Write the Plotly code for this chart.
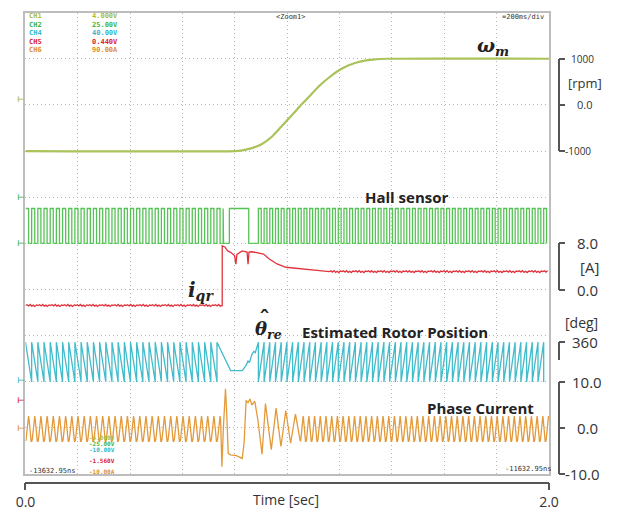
import plotly.graph_objects as go

# ---------------- data ----------------
time_ticks = [0.0, 2.0]
time_tick_text = ["0.0", "2.0"]

# rotor speed omega_m [rpm]
speed_t = [0.0, 0.799, 0.828, 0.865, 0.902, 0.939, 0.976, 1.013, 1.050, 1.087,
           1.124, 1.161, 1.198, 1.235, 1.272, 1.327, 1.383, 2.0]
speed_rpm = [-1000, -1000, -985, -935, -850, -700, -480, -250, -20, 200,
             420, 600, 750, 860, 930, 980, 1000, 1000]

# electrical period of the periodic signals [s]
elec_period_before = 0.0236
elec_period_after = 0.0218

# Hall sensor (logic level)
hall_cycle_frac = [0.0, 0.5, 0.5, 1.0]
hall_cycle_level = [1, 1, 0, 0]
hall_before_end = 0.7567
hall_after_start = 0.8898
hall_trans_t = [0.7567, 0.7789, 0.7789, 0.8529, 0.8529, 0.8898]
hall_trans_level = [0, 0, 1, 1, 0, 0]

# estimated rotor position [deg]
pos_cycle_frac = [0.0, 1.0]
pos_cycle_deg_before = [360, 0]
pos_cycle_deg_after = [0, 360]
pos_before_end = 0.7535
pos_after_start = 0.8898
pos_trans_t = [0.7837, 0.8281, 0.8429, 0.8503, 0.8558, 0.8651, 0.8725, 0.8780, 0.8898]
pos_trans_deg = [103, 103, 150, 190, 175, 250, 275, 265, 360]

# q-axis current i_qr [A]
iqr_before_level = -2.76
iqr_step_t = 0.7516
iqr_trans_t = [0.7516, 0.7616, 0.7726, 0.7837, 0.7985, 0.8040, 0.8077, 0.8281, 0.8466,
               0.8503, 0.8540, 0.8651, 0.8835, 0.9094, 0.9316, 0.9612, 0.9945, 1.0499,
               1.1238, 1.1608]
iqr_trans_a = [7.6, 7.4, 6.7, 6.46, 5.9, 4.4, 6.1, 6.7, 6.5,
               4.4, 6.5, 6.56, 6.4, 6.16, 5.3, 4.44, 3.87, 3.57,
               3.28, 3.11]
iqr_after_level = 3.11
iqr_ripple = [0.0, 0.14, -0.08, 0.18, -0.12, 0.06, -0.16, 0.10]
iqr_ripple_step = 0.006

# phase current [A]
phase_cycle_frac = [0.0, 1 / 12, 2 / 12, 3 / 12, 4 / 12, 5 / 12, 6 / 12, 7 / 12,
                    8 / 12, 9 / 12, 10 / 12, 11 / 12, 1.0]
phase_cycle_a = [-2.9, -2.6, -1.6, 0.0, 1.6, 2.5, 2.6, 1.8, 0.2, -1.4, -2.5, -2.9, -2.9]
phase_before_end = 0.7468
phase_after_start = 1.0499
phase_trans_t = [0.7505, 0.7560, 0.7641, 0.7690, 0.7745, 0.7837, 0.8059, 0.8281, 0.8355,
                 0.8429, 0.8503, 0.8577, 0.8651, 0.8761, 0.8872, 0.9039, 0.9168, 0.9390,
                 0.9575, 0.9760, 0.9945, 1.0129, 1.0314, 1.0499]
phase_trans_a = [-8.4, 0.0, 8.5, 3.0, -5.5, -5.8, -6.0, -6.6, -3.0,
                 6.0, 5.5, 6.3, 5.0, 5.8, 2.0, -5.7, 5.3, -4.7,
                 4.3, -4.0, 3.8, -3.3, 3.0, -2.9]

# scope read-outs
ch_names = ["CH1", "CH2", "CH4", "CH5", "CH6"]
ch_scale = ["4.000V", "25.00V", "40.00V", "0.440V", "90.00A"]
ch_offset = ["-4.000V", "-25.00V", "-10.00V", "-1.560V", "-10.00A"]
ch_colors = ["#a9bd3c", "#3fb54a", "#33b8c9", "#d8262f", "#e0902a"]

# ---------------- layout geometry (pixels) ----------------
W, H = 618, 511
LEFT, RIGHT, TOP, BOT = 16.0, 557.0, 12.7, 476.0
BRACKET_X = 567.0


def fx(px):
    return px / W


def fy(py):
    return 1 - py / H


def yrange(v1, p1, v2, p2):
    s = (v1 - v2) / (p2 - p1)
    return [v2 - (BOT - p2) * s, v1 + (p1 - TOP) * s]


def tile(t0, t1, period, fracs, vals):
    ts, vs = [], []
    start = t0
    while start < t1 - 1e-9:
        for f, v in zip(fracs, vals):
            tt = start + f * period
            if tt <= t1 + 1e-9:
                ts.append(tt)
                vs.append(v)
        start += period
    return ts, vs


def ripple(t0, t1, level):
    ts, vs = [], []
    k = 0
    t = t0
    while t <= t1:
        ts.append(t)
        vs.append(level + iqr_ripple[k % len(iqr_ripple)])
        t += iqr_ripple_step
        k += 1
    return ts, vs


# build channel series
h1t, h1v = tile(0.0, hall_before_end, elec_period_before, hall_cycle_frac, hall_cycle_level)
h2t, h2v = tile(hall_after_start, 2.0, elec_period_after, hall_cycle_frac, hall_cycle_level)
hall_t = h1t + hall_trans_t + h2t
hall_v = h1v + hall_trans_level + h2v

p1t, p1v = tile(0.0, pos_before_end, elec_period_before, pos_cycle_frac, pos_cycle_deg_before)
p2t, p2v = tile(pos_after_start, 2.0, elec_period_after, pos_cycle_frac, pos_cycle_deg_after)
pos_t = p1t + pos_trans_t + p2t
pos_v = p1v + pos_trans_deg + p2v

i1t, i1v = ripple(0.0, iqr_step_t, iqr_before_level)
i2t, i2v = ripple(iqr_trans_t[-1], 2.0, iqr_after_level)
iqr_t = i1t + [iqr_step_t] + iqr_trans_t + i2t
iqr_v = i1v + [iqr_before_level] + iqr_trans_a + i2v

c1t, c1v = tile(0.0, phase_before_end, elec_period_before, phase_cycle_frac, phase_cycle_a)
c2t, c2v = tile(phase_after_start, 2.0, elec_period_after, phase_cycle_frac, phase_cycle_a)
ph_t = c1t + phase_trans_t + c2t
ph_v = c1v + phase_trans_a + c2v

# value <-> pixel calibrations of each channel
R_RPM = yrange(1000, 59.0, -1000, 151.7)
R_HALL = yrange(1, 209.3, 0, 244.4)
R_IQR = yrange(8, 244.4, 0, 290.7)
R_DEG = yrange(360, 343.5, 0, 383.4)
R_PH = yrange(10, 383.4, 0, 429.7)

fig = go.Figure()
line_kw = dict(mode="lines", hoverinfo="skip", showlegend=False)
fig.add_trace(go.Scatter(x=speed_t, y=speed_rpm, xaxis="x", yaxis="y7",
                         line=dict(color="#a9c25a", width=2.2, shape="spline", smoothing=0.6),
                         **line_kw))
fig.add_trace(go.Scatter(x=hall_t, y=hall_v, xaxis="x", yaxis="y8",
                         line=dict(color="#55c255", width=1.3), **line_kw))
fig.add_trace(go.Scatter(x=iqr_t, y=iqr_v, xaxis="x", yaxis="y9",
                         line=dict(color="#e0323c", width=1.3), **line_kw))
fig.add_trace(go.Scatter(x=pos_t, y=pos_v, xaxis="x", yaxis="y10",
                         line=dict(color="#40bccb", width=1.3), **line_kw))
fig.add_trace(go.Scatter(x=ph_t, y=ph_v, xaxis="x", yaxis="y11",
                         line=dict(color="#e39a3a", width=1.3), **line_kw))
# dummy traces so that decoration axes are drawn
for ya in ["y", "y3", "y4", "y5", "y6"]:
    fig.add_trace(go.Scatter(x=[None], y=[None], xaxis="x2", yaxis=ya, **line_kw))
fig.add_trace(go.Scatter(x=[None], y=[None], xaxis="x", yaxis="y12", **line_kw))

grid_kw = dict(showgrid=True, gridcolor="#b5b5b5", gridwidth=1, griddash="1px,3px",
               showticklabels=False, ticks="", zeroline=False)
hidden = dict(visible=False, overlaying="y", fixedrange=True)
bracket = dict(anchor="free", position=fx(BRACKET_X), side="right", showline=True,
               linecolor="#555", linewidth=1.5, ticks="outside", ticklen=6, tickwidth=1.5,
               tickcolor="#555", showticklabels=False, showgrid=False, zeroline=False)

fig.update_layout(
    width=W, height=H, margin=dict(l=0, r=0, t=0, b=0),
    paper_bgcolor="white", plot_bgcolor="rgba(0,0,0,0)",
    font=dict(family="Open Sans", color="#222"),
    xaxis=dict(domain=[fx(LEFT), fx(RIGHT)], range=[0, 2], dtick=0.2, tick0=0,
               anchor="y", showline=True, mirror=True, linecolor="#bdbdbd", linewidth=1.5,
               **grid_kw),
    yaxis=dict(domain=[fy(BOT), fy(TOP)], range=[0, 10], dtick=1, tick0=0,
               showline=True, mirror=True, linecolor="#bdbdbd", linewidth=1.5, **grid_kw),
    xaxis2=dict(overlaying="x", range=[0, 2], anchor="free",
                position=fy(484.5), showline=True, linecolor="#555", linewidth=1.5,
                ticks="outside", ticklen=7, tickwidth=1.5, tickcolor="#555",
                tickvals=time_ticks, ticktext=time_tick_text,
                tickfont=dict(size=14, color="#333"), showgrid=False, zeroline=False),
    yaxis3=dict(domain=[fy(151.7), fy(59.0)], range=[-1000, 1000],
                tickvals=[-1000, 0, 1000], **bracket),
    yaxis4=dict(domain=[fy(290.7), fy(244.4)], range=[0, 8],
                tickvals=[0, 8], **bracket),
    yaxis5=dict(domain=[fy(361.0), fy(343.5)],
                range=[(383.4 - 361.0) / (383.4 - 343.5) * 360, 360],
                tickvals=[360], **bracket),
    yaxis6=dict(domain=[fy(476.0), fy(383.4)], range=[-10, 10],
                tickvals=[-10, 0, 10], **bracket),
    yaxis7=dict(range=R_RPM, **hidden),
    yaxis8=dict(range=R_HALL, **hidden),
    yaxis9=dict(range=R_IQR, **hidden),
    yaxis10=dict(range=R_DEG, **hidden),
    yaxis11=dict(range=R_PH, **hidden),
    yaxis12=dict(overlaying="y", side="right", showline=True, linecolor="#9a9a9a",
                 linewidth=2, showticklabels=False, ticks="", showgrid=False,
                 zeroline=False, range=[0, 10]),
)

ann = []


def label(text, px, py, size, color="#222", xanchor="center", family="Open Sans", **kw):
    ann.append(dict(text=text, x=fx(px), y=fy(py), xref="paper", yref="paper",
                    xanchor=xanchor, yanchor="middle", showarrow=False,
                    font=dict(size=size, color=color, family=family), **kw))


def axlabel(text, yref, yval, px, size):
    ann.append(dict(text=text, x=fx(px), y=yval, xref="paper", yref=yref,
                    xanchor="left", yanchor="middle", showarrow=False,
                    font=dict(size=size, color="#333", family="Open Sans")))


# right-hand scales (x = left edge of each label)
axlabel("1000", "y3", 1000, 578, 10)
axlabel("0.0", "y3", 0, 584, 11)
axlabel("-1000", "y3", -1000, 572, 10)
label("[rpm]", 575, 83, 13, color="#333", xanchor="left")
axlabel("8.0", "y4", 8, 584, 15)
axlabel("0.0", "y4", 0, 584, 15)
label("[A]", 587, 268, 15, color="#333", xanchor="left")
label("[deg]", 571, 324, 14, color="#333", xanchor="left")
axlabel("360", "y5", 360, 579, 15)
axlabel("10.0", "y6", 10, 579, 15)
axlabel("0.0", "y6", 0, 584, 15)
axlabel("-10.0", "y6", -10, 572, 15)
label("Time [sec]", 285, 501, 14, color="#333")

# signal names
serif = "DejaVu Serif"
label("<b><i>ω</i></b><sub><b><i>m</i></b></sub>", 499, 47, 19, family=serif)
label("<b>Hall sensor</b>", 410.5, 198, 15)
label("<b><i>i</i></b><sub><b><i>qr</i></b></sub>", 197, 292, 20, family=serif)
label("<b><i>θ</i></b><sub><b><i>re</i></b></sub>", 267, 331, 18, family=serif)
label("<b>ˆ</b>", 263, 320, 22, family=serif)
label("<b>Estimated Rotor Position</b>", 398, 333, 15)
label("<b>Phase Current</b>", 486.5, 410, 15)

# scope read-outs
mono = "DejaVu Sans Mono"
for i, (n, s, c) in enumerate(zip(ch_names, ch_scale, ch_colors)):
    label("<b>" + n + "</b>", 18, 16 + i * 8.6, 7, color=c, xanchor="left", family=mono)
    label("<b>" + s + "</b>", 83, 16 + i * 8.6, 7, color=c, xanchor="left", family=mono)
offset_rows = [439, 445, 451, 462, 473]
for o, c, py in zip(ch_offset, ch_colors, offset_rows):
    label("<b>" + o + "</b>", 80, py, 6, color=c, xanchor="left", family=mono)
label("&lt;Zoom1&gt;", 290, 17, 7, color="#333", family=mono)
label("=200ms/div", 506, 17, 7, color="#333", xanchor="left", family=mono)
label("-13632.95ns", 18, 473, 7, color="#333", xanchor="left", family=mono)
label("-11632.95ns", 510, 471, 7, color="#333", xanchor="left", family=mono)

# channel ground markers
for py, c in [(100, ch_colors[0]), (198, ch_colors[1]), (244, ch_colors[1]),
              (382, ch_colors[2]), (402, ch_colors[3]), (430, ch_colors[4])]:
    label("<b>⊢</b>", 11, py, 8, color=c, family="DejaVu Sans")

fig.update_layout(annotations=ann)
fig.write_html("out.html")
